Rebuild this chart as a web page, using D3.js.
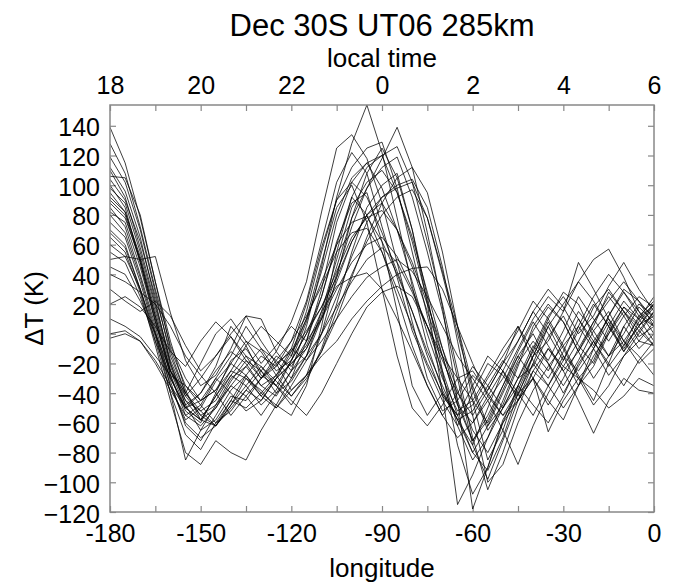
<!DOCTYPE html>
<html><head><meta charset="utf-8">
<script src="https://cdn.jsdelivr.net/npm/d3@7"></script>
<style>html,body{margin:0;padding:0;background:#fff;} svg{display:block;font-family:"Liberation Sans",Arial,Helvetica,sans-serif;}</style>
</head><body><svg id="chart" width="677" height="584"></svg>
<script>
const longitudes = [-180,-175,-170,-165,-160,-155,-150,-145,-140,-135,-130,-125,-120,-115,-110,-105,-100,-95,-90,-85,-80,-75,-70,-65,-60,-55,-50,-45,-40,-35,-30,-25,-20,-15,-10,-5,0];
const run01 = [110,92,58,20,-18,-42,-55,-48,-30,-22,-35,-42,-25,5,45,92,128,154,122,78,32,-8,-38,-58,-52,-35,-18,-30,-22,-2,12,-8,-20,2,18,6,12];
const run02 = [100,85,48,8,-28,-55,-62,-50,-32,-18,-25,-12,8,35,82,125,134,118,88,48,8,-30,-52,-45,-28,-38,-20,5,-12,-25,-5,15,2,-15,0,18,8];
const run03 = [139,115,78,35,-5,-38,-58,-62,-45,-28,-15,-22,-5,22,62,102,122,108,72,38,2,-22,-45,-62,-40,-20,-28,-42,-15,8,-10,-30,-18,5,22,10,-5];
const run04 = [106,105,80,35,-10,-35,-48,-60,-52,-38,-45,-30,-20,-10,12,45,78,98,118,139,112,68,18,-45,-118,-90,-58,-40,-30,-45,-58,-35,-10,8,-12,2,15];
const run05 = [128,108,72,30,-8,-30,-45,-38,-20,-5,-12,-28,-15,15,55,90,112,125,129,98,55,12,-28,-62,-85,-70,-45,-20,-5,-18,2,25,10,-5,12,25,18];
const run06 = [95,82,52,15,-22,-48,-65,-58,-42,-45,-30,-15,-22,-5,25,60,92,112,120,126,102,62,20,-25,-70,-105,-80,-50,-25,-10,-22,-5,18,30,15,-2,5];
const run07 = [119,102,70,28,-15,-40,-52,-45,-28,-35,-48,-38,-18,8,42,80,105,115,120,95,62,22,-15,-48,-60,-42,-25,-40,-55,-35,-15,-25,-10,12,30,22,5];
const run08 = [90,80,48,10,-28,-52,-60,-40,-18,-10,-25,-40,-32,-15,10,40,72,98,112,119,92,55,15,-30,-75,-98,-72,-45,-20,5,-15,-35,-22,0,18,10,20];
const run09 = [85,72,40,5,-32,-62,-72,-55,-38,-28,-40,-48,-30,-5,30,75,102,115,98,70,35,0,-30,-52,-45,-28,-10,5,-18,-30,-12,10,-5,-22,-8,12,22];
const run10 = [104,90,62,25,-12,-40,-55,-62,-48,-30,-38,-50,-35,-18,0,25,52,75,92,100,104,85,45,-5,-55,-100,-88,-60,-38,-22,-8,-28,-45,-20,5,-10,0];
const run11 = [80,68,38,2,-35,-58,-50,-32,-20,-28,-42,-30,-12,2,18,38,62,80,92,98,102,78,40,0,-38,-65,-50,-30,-12,10,28,20,-2,-15,-5,10,25];
const run12 = [75,65,35,0,-30,-50,-40,-25,-12,-20,-35,-28,-10,20,58,90,102,92,68,42,15,-15,-42,-55,-35,-15,-25,-45,-30,-10,-25,-45,-67,-45,-30,-38,-40];
const run13 = [70,60,30,-5,-40,-68,-78,-60,-45,-50,-40,-28,-42,-30,-12,15,40,62,80,92,97,78,42,5,-35,-62,-48,-22,5,20,8,-12,5,28,15,2,-8];
const run14 = [65,55,28,-8,-45,-80,-88,-72,-80,-85,-65,-48,-55,-35,5,55,92,80,55,25,-8,-35,-55,-40,-22,-35,-50,-30,-8,-20,-40,-22,-5,10,-5,-15,-28];
const run15 = [60,52,30,0,-40,-85,-65,-48,-35,-42,-55,-40,-25,-10,10,35,62,80,88,70,45,15,-15,-48,-72,-55,-35,-15,-30,-48,-30,-10,8,25,12,-5,8];
const run16 = [55,48,25,-5,-30,-50,-45,-30,-15,5,-10,-25,-18,0,18,42,65,78,83,70,48,20,-10,-38,-65,-80,-60,-35,-15,-5,15,35,22,5,-10,5,18];
const run17 = [50,52,50,52,14,-18,-35,-28,-10,12,-5,-20,-12,10,35,60,75,79,62,40,15,-12,-35,-58,-80,-62,-40,-18,2,18,8,-12,-30,-15,5,20,12];
const run18 = [40,35,28,20,5,-15,-28,-40,-55,-42,-30,-18,-5,12,32,55,68,71,55,30,5,-20,-40,-55,-48,-30,-15,2,22,10,-8,5,25,40,28,12,5];
const run19 = [30,22,15,22,12,-8,-25,-15,0,12,10,-12,-25,-15,0,18,35,50,58,48,28,5,-18,-40,-55,-38,-20,-5,15,30,18,0,12,32,48,30,15];
const run20 = [20,25,18,5,-12,-22,-5,8,-2,-15,-30,-22,-10,-18,-5,10,25,38,45,50,42,25,5,-15,-30,-45,-30,-10,10,25,15,48,30,10,-8,5,20];
const run21 = [10,5,-2,-15,-28,-35,-45,-38,-25,-30,-42,-50,-38,-28,-15,-5,10,22,32,40,44,45,30,5,-20,-42,-55,-38,-15,5,20,35,50,57,38,15,5];
const run22 = [0,2,-5,-20,-38,-55,-48,-30,-40,-52,-45,-30,-20,-8,15,32,38,41,30,10,-12,-35,-55,-70,-60,-45,-65,-88,-62,-40,-22,-30,-48,-35,-15,-5,-8];
const run23 = [-3,0,-5,-18,-35,-50,-58,-42,-28,-15,-22,-35,-45,-55,-40,-20,0,18,28,32,25,5,-15,-30,-25,-40,-55,-45,-30,-66,-45,-30,-38,-50,-42,-30,-35];
const run24 = [98,88,55,18,-20,-45,-58,-50,-35,-22,-10,-18,-30,-15,15,50,85,102,110,95,65,28,-10,-45,-72,-58,-35,-12,8,-8,-25,-12,8,22,35,22,10];
const run25 = [82,75,45,8,-25,-45,-52,-62,-48,-35,-22,-32,-42,-28,0,38,78,108,125,105,70,25,-25,-75,-108,-90,-60,-45,-25,-35,-18,5,-10,-28,-15,0,15];
const run26 = [68,58,30,-2,-35,-60,-70,-62,-50,-38,-25,-35,-48,-32,-10,20,55,85,100,108,70,20,-40,-115,-95,-70,-50,-35,-48,-60,-42,-20,-5,-20,-35,-18,-5];
const run27 = [88,78,50,12,-25,-50,-58,-42,-25,-8,5,-5,-15,10,48,85,100,75,30,-15,-50,-62,-48,-30,-45,-60,-38,-15,0,-20,-35,-18,2,15,-5,-20,-10];
const run28 = [112,96,65,22,-20,-48,-40,-22,5,-8,-28,-35,-18,0,25,62,88,95,62,15,-35,-55,-40,-58,-75,-50,-25,-5,15,0,-18,2,20,5,-12,8,20];
const run29 = [45,40,22,0,-25,-40,-20,0,10,-5,-20,-8,5,-5,10,30,48,60,65,52,30,5,-25,-55,-80,-92,-70,-40,-20,-35,-50,-35,-15,0,15,5,-8];
const run30 = [92,82,50,12,-25,-42,-30,-15,-2,-18,-30,-20,-38,-28,-12,10,38,65,88,105,112,95,55,5,-45,-85,-65,-35,-10,12,25,10,-8,12,28,15,0];
const runs = [run01,run02,run03,run04,run05,run06,run07,run08,run09,run10,run11,run12,run13,run14,run15,run16,run17,run18,run19,run20,run21,run22,run23,run24,run25,run26,run27,run28,run29,run30];

const lonTicks = [-180,-165,-150,-135,-120,-105,-90,-75,-60,-45,-30,-15,0];
const lonLabels = [-180,-150,-120,-90,-60,-30,0];
const ltTicks = [18,19,20,21,22,23,24,25,26,27,28,29,30];
const ltLabels = [18,20,22,24,26,28,30];
const yTicks = [-120,-100,-80,-60,-40,-20,0,20,40,60,80,100,120,140];

const L = 110, R = 654, T = 105, B = 512;
const svg = d3.select("#chart");
const x = d3.scaleLinear().domain([-180, 0]).range([L, R]);
const lt = d3.scaleLinear().domain([18, 30]).range([L, R]);
const y = d3.scaleLinear().domain([-120, 154]).range([B, T]);

svg.append("defs").append("clipPath").attr("id","clip")
  .append("rect").attr("x",L).attr("y",T).attr("width",R-L).attr("height",B-T);

const tickColor = "#888";
const fs = "25px";

const gB = svg.append("g").attr("transform",`translate(0,${B})`)
  .call(d3.axisBottom(x).tickValues(lonTicks).tickSize(-6).tickPadding(12)
    .tickFormat(d => lonLabels.includes(d) ? String(d) : ""));
const gT = svg.append("g").attr("transform",`translate(0,${T})`)
  .call(d3.axisTop(lt).tickValues(ltTicks).tickSize(-6).tickPadding(11)
    .tickFormat(d => ltLabels.includes(d) ? String(d % 24) : ""));
const gL = svg.append("g").attr("transform",`translate(${L},0)`)
  .call(d3.axisLeft(y).tickValues(yTicks).tickSize(-6).tickPadding(10));
const gR = svg.append("g").attr("transform",`translate(${R},0)`)
  .call(d3.axisRight(y).tickValues(yTicks).tickSize(-6).tickFormat(""));

[gB,gT,gL,gR].forEach(g => {
  g.select(".domain").remove();
  g.selectAll(".tick line").attr("stroke", tickColor).attr("stroke-width", 1.2);
  g.selectAll("text").attr("font-size", fs).attr("fill","#000")
    .attr("font-family","'Liberation Sans',Arial,sans-serif");
});
gL.selectAll("text").attr("dy","0.40em");

const line = d3.line().x((d,i) => x(longitudes[i])).y(d => y(d));
svg.append("g").attr("clip-path","url(#clip)")
  .selectAll("path").data(runs).join("path")
  .attr("d", line).attr("fill","none")
  .attr("stroke","#000").attr("stroke-opacity",0.8).attr("stroke-width",0.95)
  .attr("stroke-linejoin","round");

svg.append("rect").attr("x",L).attr("y",T).attr("width",R-L).attr("height",B-T)
  .attr("fill","none").attr("stroke",tickColor).attr("stroke-width",1.5);

svg.append("text").attr("x",(L+R)/2).attr("y",36).attr("text-anchor","middle")
  .attr("font-size","31px").text("Dec 30S UT06 285km");
svg.append("text").attr("x",(L+R)/2).attr("y",67).attr("text-anchor","middle")
  .attr("font-size","26px").text("local time");
svg.append("text").attr("x",(L+R)/2).attr("y",577).attr("text-anchor","middle")
  .attr("font-size","26px").text("longitude");
svg.append("text").attr("transform",`translate(43,${(T+B)/2}) rotate(-90)`)
  .attr("text-anchor","middle").attr("font-size","26px").text("ΔT (K)");
</script></body></html>
